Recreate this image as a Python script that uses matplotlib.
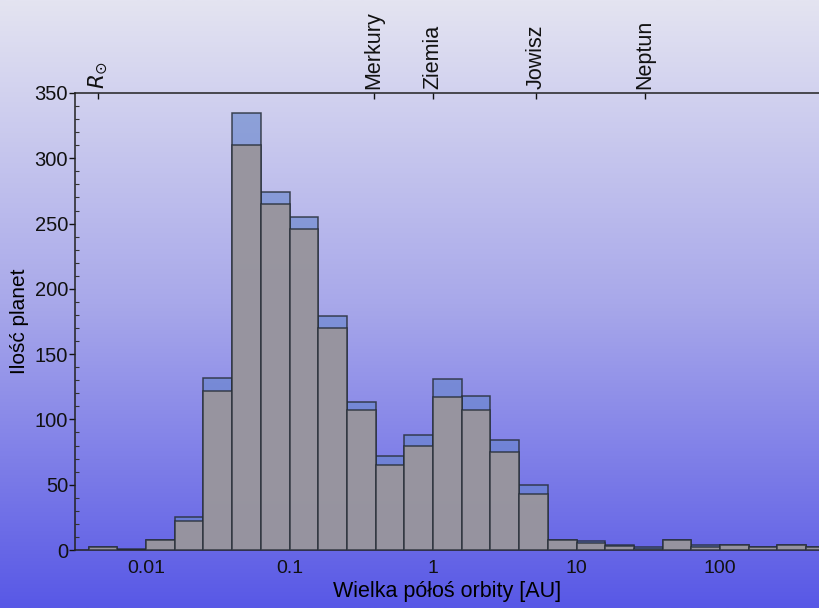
import numpy as np
import matplotlib
matplotlib.use("Agg")
import matplotlib.pyplot as plt
from matplotlib.colors import LinearSegmentedColormap
from matplotlib.ticker import MultipleLocator, FixedLocator

plt.rcParams['font.family'] = ['Liberation Sans', 'DejaVu Sans']

# log10 bin left edges (width 0.2 decade)
bin_left_log = [-2.4, -2.2, -2.0, -1.8, -1.6, -1.4, -1.2, -1.0, -0.8, -0.6,
                -0.4, -0.2, 0.0, 0.2, 0.4, 0.6, 0.8, 1.0, 1.2, 1.4,
                1.6, 1.8, 2.0, 2.2, 2.4, 2.6]
bin_width_log = 0.2
counts_all = [2, 1, 8, 25, 132, 335, 274, 255, 179, 113,
              72, 88, 131, 118, 84, 50, 8, 7, 4, 2,
              8, 4, 4, 2, 4, 2]
counts_sub = [2, 0, 8, 22, 122, 310, 265, 246, 170, 107,
              65, 80, 117, 107, 75, 43, 8, 5, 3, 1,
              8, 2, 4, 2, 4, 2]

top_names = ['$R_{\\odot}$', 'Merkury', 'Ziemia', 'Jowisz', 'Neptun']
top_pos = [0.00465, 0.387, 1.0, 5.2, 30.1]

bottom_ticks = [0.01, 0.1, 1, 10, 100]
bottom_labels = ['0.01', '0.1', '1', '10', '100']

W, H = 819, 608
fig = plt.figure(figsize=(W / 100, H / 100), dpi=100)

# gradient background
bg = fig.add_axes([0, 0, 1, 1], zorder=-5)
cmap = LinearSegmentedColormap.from_list('bg', ['#e4e4f1', '#a8a8ea', '#5858e6'])
grad = np.linspace(0, 1, 256).reshape(-1, 1)
bg.imshow(grad, aspect='auto', cmap=cmap, extent=[0, 1, 0, 1], origin='upper')
bg.axis('off')

x0, x1 = 75, 819
y_top, y_bot = 93, 550
ax = fig.add_axes([x0 / W, (H - y_bot) / H, (x1 - x0) / W, (y_bot - y_top) / H])
ax.set_facecolor('none')
ax.set_xscale('log')

lefts = 10 ** np.array(bin_left_log)
widths = 10 ** (np.array(bin_left_log) + bin_width_log) - lefts

edge = (0.15, 0.18, 0.22, 0.85)
ax.bar(lefts, counts_all, width=widths, align='edge', color=(0.40, 0.52, 0.80, 0.62),
       edgecolor=edge, linewidth=1.1, zorder=2)
ax.bar(lefts, counts_sub, width=widths, align='edge', color=(0.60, 0.585, 0.615, 0.96),
       edgecolor=edge, linewidth=1.1, zorder=3)

ax.set_xlim(10 ** -2.495, 10 ** 2.69)
ax.set_ylim(0, 350)

ax.spines['right'].set_visible(False)
for s in ['left', 'bottom', 'top']:
    ax.spines[s].set_color('#222222')
    ax.spines[s].set_linewidth(1.1)

ax.xaxis.set_major_locator(FixedLocator(bottom_ticks))
ax.set_xticklabels(bottom_labels)
ax.xaxis.set_minor_locator(FixedLocator([]))
ax.tick_params(axis='x', which='both', length=0, labelsize=14, pad=7, colors='#111111')
ax.yaxis.set_major_locator(MultipleLocator(50))
ax.yaxis.set_minor_locator(MultipleLocator(10))
ax.tick_params(axis='y', which='major', direction='out', length=4, width=1,
               labelsize=14.5, pad=1, colors='#111111')
ax.tick_params(axis='y', which='minor', direction='in', length=3, width=0.8, color='#333333')

ax.set_xlabel('Wielka półoś orbity [AU]', fontsize=15.5, labelpad=3)
ax.set_ylabel('Ilość planet', fontsize=15, labelpad=4)

ax2 = ax.twiny()
ax2.set_xscale('log')
ax2.set_xlim(ax.get_xlim())
ax2.xaxis.set_major_locator(FixedLocator(top_pos))
ax2.xaxis.set_minor_locator(FixedLocator([]))
ax2.set_xticklabels(top_names, rotation=90)
ax2.tick_params(axis='x', which='major', direction='in', length=4, width=1,
                labelsize=15.5, pad=3, colors='#111111')
for s in ['left', 'right', 'bottom', 'top']:
    ax2.spines[s].set_visible(False)

fig.savefig('out.png', dpi=100)
